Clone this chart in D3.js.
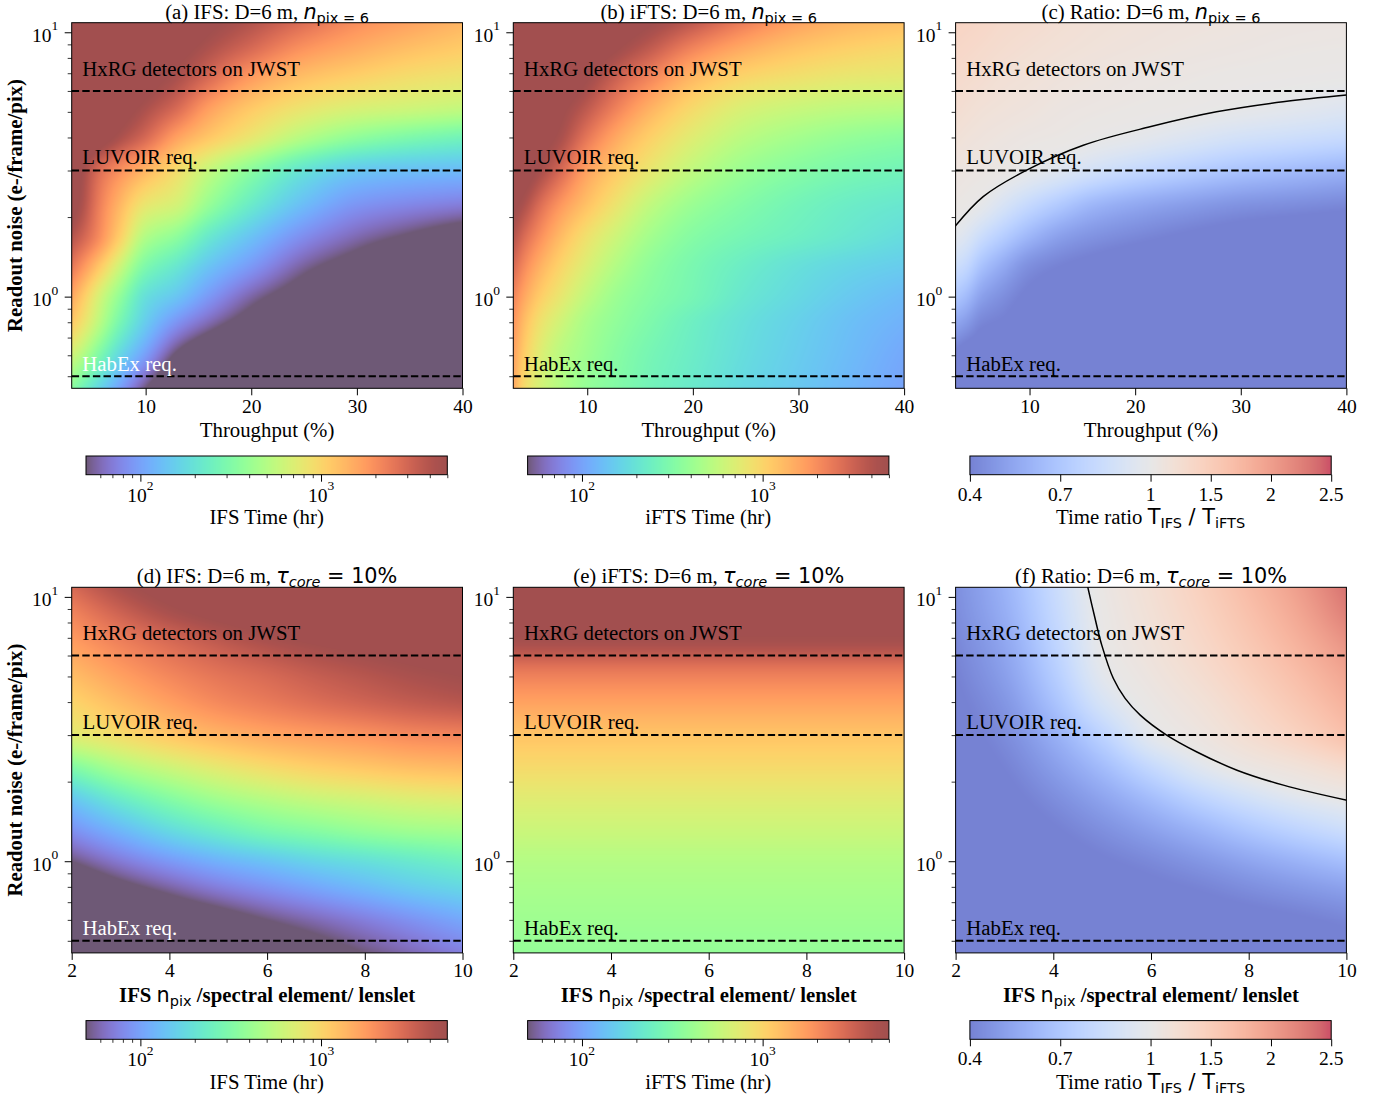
<!DOCTYPE html>
<html>
<head>
<meta charset="utf-8">
<script src="https://cdn.jsdelivr.net/npm/d3@7"></script>
<style>
  body { margin: 0; background: #fff; overflow: hidden; }
  svg { display: block; }
  text { white-space: pre; }
</style>
</head>
<body>
<svg id="fig" width="1387" height="1096"></svg>
<script>
// ---------------- data ----------------
// grid nodes
const throughputNodes = [3, 4, 5.5, 7.5, 10, 13, 16, 20, 25, 30, 35, 40];          // %
const npixNodes = [2, 3, 4, 5, 6, 7, 8, 9, 10];                                      // IFS n_pix
const noiseNodes = [10.9, 8.7, 6.8, 5.2, 4, 3, 2.2, 1.7, 1.3, 1, 0.8, 0.6, 0.45];  // e-/frame/pix, top to bottom

// (a) IFS time (hr): rows = noiseNodes, columns = throughputNodes
const ifsTimeThroughput = [
  [30000, 30000, 30000, 30000, 17000, 9500, 5700, 4000, 2750, 2000, 1660, 1380],
  [30000, 30000, 30000, 20000, 11000, 6300, 4200, 2900, 1900, 1510, 1260, 1100],
  [30000, 30000, 25000, 12600, 6900, 4400, 2900, 1800, 1260, 1050, 910, 830],
  [30000, 25000, 14000, 7200, 4400, 2900, 1740, 1150, 830, 690, 630, 575],
  [25000, 14000, 7200, 4400, 2900, 1660, 1150, 790, 500, 363, 302, 263],
  [10000, 5000, 2900, 2000, 1380, 910, 575, 347, 200, 145, 132, 126],
  [6300, 4200, 2400, 1380, 790, 630, 380, 219, 126, 87, 76, 69],
  [4000, 3160, 2100, 1100, 500, 363, 219, 138, 83, 60, 48, 38],
  [2500, 1900, 1200, 630, 302, 209, 138, 91, 55, 40, 29, 22],
  [1580, 1150, 690, 380, 190, 138, 91, 57, 38, 26, 20, 15],
  [1150, 870, 550, 288, 151, 87, 60, 40, 26, 18, 12.6, 9.5],
  [630, 500, 316, 173, 95, 46, 30, 19, 10, 6, 4, 2.5],
  [347, 263, 173, 100, 50, 25, 13, 6, 3, 2, 1.3, 0.8]
];

// (b) iFTS time (hr): rows = noiseNodes, columns = throughputNodes
const iftsTimeThroughput = [
  [30000, 30000, 30000, 20000, 11500, 7200, 5200, 3600, 2300, 1660, 1380, 1260],
  [30000, 30000, 26000, 14000, 7900, 5000, 3500, 2200, 1510, 1200, 1050, 955],
  [30000, 30000, 17000, 9100, 5200, 3160, 2200, 1380, 1000, 870, 790, 760],
  [30000, 20000, 10500, 5700, 3600, 2200, 1450, 955, 690, 600, 550, 525],
  [20000, 12600, 6900, 4400, 2500, 1510, 1050, 725, 525, 437, 380, 347],
  [9000, 6900, 4570, 2900, 1660, 1100, 790, 550, 400, 331, 288, 263],
  [5500, 4200, 2750, 1800, 1200, 790, 550, 400, 316, 263, 229, 209],
  [4000, 2900, 2000, 1320, 870, 600, 437, 331, 275, 240, 209, 182],
  [2900, 2100, 1450, 1000, 690, 480, 363, 288, 229, 190, 166, 151],
  [2200, 1600, 1100, 790, 550, 400, 331, 275, 209, 173, 145, 126],
  [1900, 1300, 870, 630, 457, 363, 302, 240, 190, 158, 132, 115],
  [1700, 1100, 725, 525, 417, 331, 275, 229, 182, 151, 126, 105],
  [1580, 950, 660, 500, 380, 316, 263, 219, 173, 145, 120, 100]
];

// (c) time ratio T_IFS / T_iFTS: rows = noiseNodes, columns = throughputNodes
const ratioThroughput = [
  [1.4, 1.38, 1.35, 1.3, 1.27, 1.22, 1.18, 1.15, 1.12, 1.1, 1.08, 1.07],
  [1.35, 1.33, 1.3, 1.26, 1.22, 1.18, 1.15, 1.12, 1.09, 1.07, 1.05, 1.04],
  [1.3, 1.28, 1.25, 1.2, 1.17, 1.13, 1.1, 1.07, 1.05, 1.03, 1.02, 1.01],
  [1.25, 1.22, 1.18, 1.15, 1.12, 1.08, 1.06, 1.04, 1.02, 0.995, 0.97, 0.94],
  [1.18, 1.15, 1.12, 1.09, 1.06, 1.04, 1.01, 0.98, 0.93, 0.88, 0.85, 0.82],
  [1.1, 1.08, 1.06, 1.03, 0.99, 0.94, 0.88, 0.81, 0.74, 0.68, 0.64, 0.6],
  [1.04, 1.02, 0.98, 0.9, 0.8, 0.7, 0.61, 0.55, 0.5, 0.46, 0.44, 0.42],
  [0.97, 0.93, 0.84, 0.74, 0.62, 0.52, 0.47, 0.43, 0.39, 0.36, 0.34, 0.32],
  [0.85, 0.8, 0.67, 0.56, 0.45, 0.4, 0.37, 0.34, 0.32, 0.3, 0.28, 0.27],
  [0.7, 0.64, 0.52, 0.45, 0.38, 0.34, 0.32, 0.3, 0.28, 0.26, 0.25, 0.24],
  [0.55, 0.5, 0.42, 0.39, 0.34, 0.31, 0.29, 0.27, 0.26, 0.25, 0.24, 0.23],
  [0.38, 0.35, 0.33, 0.31, 0.29, 0.27, 0.26, 0.25, 0.24, 0.23, 0.22, 0.21],
  [0.3, 0.28, 0.27, 0.26, 0.25, 0.24, 0.23, 0.22, 0.21, 0.2, 0.19, 0.18]
];

// (d) IFS time (hr) at tau_core = 10%: rows = noiseNodes, columns = npixNodes
const ifsTimeNpix = [
  [2900, 4400, 6300, 8700, 11500, 14400, 18000, 22000, 26000],
  [2200, 3160, 4400, 5700, 7200, 9100, 11000, 13200, 15000],
  [1740, 2290, 2900, 3600, 4400, 5200, 6000, 6900, 7900],
  [1320, 1740, 2200, 2630, 3000, 3500, 4000, 4600, 5200],
  [1000, 1320, 1700, 2090, 2400, 2750, 3100, 3470, 3800],
  [725, 910, 1150, 1380, 1580, 1740, 1900, 2100, 2200],
  [288, 437, 575, 725, 870, 1000, 1100, 1200, 1260],
  [138, 219, 316, 417, 500, 575, 630, 690, 725],
  [83, 120, 173, 229, 288, 331, 380, 417, 437],
  [50, 69, 91, 115, 138, 166, 190, 219, 251],
  [32, 44, 57, 72, 87, 105, 126, 151, 173],
  [16, 23, 32, 40, 50, 60, 72, 87, 105],
  [8, 12.6, 18, 24, 32, 40, 50, 60, 72]
];

// (e) iFTS time (hr) at tau_core = 10%: does not depend on the IFS n_pix
const iftsTimeNoise = [8700, 6300, 4600, 2400, 1660, 1200, 910, 725, 600, 500, 457, 417, 380];

// (f) time ratio T_IFS / T_iFTS: rows = noiseNodes, columns = npixNodes
const ratioNpix = [
  [0.45, 0.6, 0.82, 1.04, 1.22, 1.45, 1.72, 2.0, 2.35],
  [0.44, 0.58, 0.8, 1.02, 1.19, 1.4, 1.65, 1.92, 2.25],
  [0.42, 0.55, 0.77, 1.005, 1.15, 1.34, 1.57, 1.82, 2.1],
  [0.4, 0.52, 0.73, 0.97, 1.1, 1.26, 1.47, 1.7, 1.95],
  [0.38, 0.48, 0.67, 0.9, 1.04, 1.17, 1.36, 1.58, 1.82],
  [0.36, 0.44, 0.58, 0.77, 0.97, 1.08, 1.24, 1.42, 1.65],
  [0.34, 0.4, 0.5, 0.63, 0.79, 0.93, 1.03, 1.12, 1.25],
  [0.32, 0.37, 0.44, 0.53, 0.64, 0.76, 0.86, 0.94, 1.0],
  [0.3, 0.34, 0.39, 0.45, 0.52, 0.6, 0.69, 0.77, 0.84],
  [0.28, 0.31, 0.35, 0.39, 0.43, 0.48, 0.54, 0.6, 0.66],
  [0.27, 0.29, 0.32, 0.35, 0.38, 0.41, 0.45, 0.49, 0.53],
  [0.25, 0.27, 0.29, 0.31, 0.33, 0.35, 0.37, 0.39, 0.42],
  [0.24, 0.25, 0.27, 0.28, 0.3, 0.31, 0.33, 0.34, 0.36]
];

// ratio = 1 contours: [x, readout noise]
const ratioContourThroughput = [[2.93, 1.84], [5.61, 2.39], [9.73, 3.01], [15.09, 3.74], [21.4, 4.39],
  [27.7, 5.0], [34.0, 5.46], [40.0, 5.79]];
const ratioContourNpix = [[4.70, 11.0], [4.855, 8.28], [4.992, 6.57], [5.23, 4.91], [5.47, 4.13],
  [5.78, 3.57], [6.32, 3.0], [6.94, 2.59], [7.76, 2.21], [8.71, 1.94], [10.01, 1.70]];

// detector requirements
const requirementLevels = [6, 3, 0.5];
const requirementLabels = ["HxRG detectors on JWST", "LUVOIR req.", "HabEx req."];
const requirementLabelNoise = [6.85, 3.17, 0.525];
const labelThroughput = 4;
const labelNpix = 2.22;

// ticks
const throughputTicks = [10, 20, 30, 40];
const npixTicks = [2, 4, 6, 8, 10];
const noiseMajorTicks = [1, 10];
const noiseMinorTicks = [0.5, 0.6, 0.7, 0.8, 0.9, 2, 3, 4, 5, 6, 7, 8, 9];
const timeMajorTicks = [100, 1000];
const timeMinorTicks = [60, 70, 80, 90, 200, 300, 400, 500, 600, 700, 800, 900, 2000, 3000, 4000, 5000];
const ratioTicks = [0.4, 0.7, 1, 1.5, 2, 2.5];
const ratioTickLabels = ["0.4", "0.7", "1", "1.5", "2", "2.5"];

// coolwarm palette
const coolwarmStops = ["#3b4cc0","#445acc","#4d68d7","#5775e1","#6282ea","#6c8ef1","#779af7","#82a5fb",
  "#8db0fe","#98b9ff","#a3c2ff","#aec9fd","#b8d0f9","#c2d5f4","#ccd9ee","#d5dbe6","#dddddd","#e5d8d1",
  "#ecd3c5","#f1ccb9","#f5c4ad","#f7bba0","#f7b194","#f7a688","#f49a7b","#f18d6f","#ec7f63","#e57058",
  "#de604d","#d55042","#cb3e38","#c0282f","#b40426"];

// ---------------- layout ----------------
const SERIF = '"Liberation Serif", "Times New Roman", serif';
const SANS = '"DejaVu Sans", sans-serif';
const FS = 20.8, TICK_FS = 19.5, SUB_FS = 14.5, SUP_FS = 13.5;
const PW = 390.8, PH = 365.6;
const colLeft = [71.7, 513.3, 955.6];
const rowTop = [22.7, 587.3];
const CB_W = 361.3, CB_H = 18.7, CB_DX = 14.3, CB_DY = 433.3;
const ALPHA = 0.7;

const svg = d3.select('#fig');

// colour maps drawn at 70% opacity over white
function fade(c) { return [c[0] * ALPHA + 255 * (1 - ALPHA), c[1] * ALPHA + 255 * (1 - ALPHA), c[2] * ALPHA + 255 * (1 - ALPHA)]; }
// d3's turbo, with its two ends pulled onto the reference turbo end colours
const TURBO_LO = [48, 18, 59], TURBO_HI = [122, 4, 3];
const d3Lo = d3.rgb(d3.interpolateTurbo(0)), d3Hi = d3.rgb(d3.interpolateTurbo(1));
function turboRGB(u) {
  u = Math.max(0, Math.min(1, u));
  const c = d3.rgb(d3.interpolateTurbo(u));
  const w0 = Math.pow(Math.max(0, 1 - u / 0.15), 2);
  const w1 = Math.pow(Math.max(0, 1 - (1 - u) / 0.15), 2);
  return [
    c.r + w0 * (TURBO_LO[0] - d3Lo.r) + w1 * (TURBO_HI[0] - d3Hi.r),
    c.g + w0 * (TURBO_LO[1] - d3Lo.g) + w1 * (TURBO_HI[1] - d3Hi.g),
    c.b + w0 * (TURBO_LO[2] - d3Lo.b) + w1 * (TURBO_HI[2] - d3Hi.b)
  ];
}
const turboColor = u => fade(turboRGB(u));
const coolwarmScale = d3.scaleLinear()
  .domain(coolwarmStops.map((_, i) => i / (coolwarmStops.length - 1)))
  .range(coolwarmStops).clamp(true);
const coolwarmColor = u => { const c = d3.rgb(coolwarmScale(u)); return fade([c.r, c.g, c.b]); };
const timeNorm = d3.scaleLog().domain([50, 5000]).range([0, 1]).clamp(true);
const ratioNorm = d3.scaleLinear().domain([0.4, 1, 2.5]).range([0, 0.5, 1]).clamp(true);

// text with mixed fonts / sub- and superscripts
function rich(parent, x, y, parts, anchor) {
  const t = parent.append('text').attr('x', x).attr('y', y).attr('text-anchor', anchor || 'start');
  parts.forEach(p => {
    const s = t.append('tspan').text(p.t)
      .attr('font-family', p.ff || SERIF)
      .attr('font-size', p.fs || FS)
      .attr('fill', p.fill || '#000');
    if (p.fw) s.attr('font-weight', p.fw);
    if (p.it) s.attr('font-style', 'italic');
    if (p.dy) s.attr('dy', p.dy);
  });
  return t;
}

// monotone cubic (Fritsch–Butland) through ascending nodes, used for smooth shading
function monotoneSpline(xs, ys) {
  const n = xs.length, d = [], m = new Array(n);
  for (let i = 0; i < n - 1; i++) d[i] = (ys[i + 1] - ys[i]) / (xs[i + 1] - xs[i]);
  m[0] = d[0]; m[n - 1] = d[n - 2];
  for (let i = 1; i < n - 1; i++) {
    if (d[i - 1] * d[i] <= 0) { m[i] = 0; continue; }
    const h0 = xs[i] - xs[i - 1], h1 = xs[i + 1] - xs[i];
    const w1 = 2 * h1 + h0, w2 = h1 + 2 * h0;
    m[i] = (w1 + w2) / (w1 / d[i - 1] + w2 / d[i]);
  }
  return x => {
    let i = 0;
    while (i < n - 2 && x > xs[i + 1]) i++;
    const h = xs[i + 1] - xs[i];
    const t = Math.max(0, Math.min(1, (x - xs[i]) / h));
    const t2 = t * t, t3 = t2 * t;
    return (2 * t3 - 3 * t2 + 1) * ys[i] + (t3 - 2 * t2 + t) * h * m[i] +
           (-2 * t3 + 3 * t2) * ys[i + 1] + (t3 - t2) * h * m[i + 1];
  };
}

// smooth shaded heat map between grid nodes (x linear, noise logarithmic)
function heatImage(xScale, yScale, xNodes, values, colorOf) {
  const w = Math.round(PW), h = Math.round(PH);
  const canvas = document.createElement('canvas');
  canvas.width = w; canvas.height = h;
  const ctx = canvas.getContext('2d');
  const img = ctx.createImageData(w, h);
  const left = xScale.range()[0], top = yScale.range()[1];
  const lyAsc = noiseNodes.map(Math.log10).reverse();
  const rowSplines = values.map(r => monotoneSpline(xNodes, r));
  const pixY = d3.range(h).map(py => Math.log10(yScale.invert(top + (py + 0.5) * PH / h)));
  for (let px = 0; px < w; px++) {
    const xv = xScale.invert(left + (px + 0.5) * PW / w);
    const colVals = rowSplines.map(f => f(xv)).reverse();
    const colSpline = monotoneSpline(lyAsc, colVals);
    for (let py = 0; py < h; py++) {
      const c = colorOf(colSpline(pixY[py]));
      const k = (py * w + px) * 4;
      img.data[k] = c[0]; img.data[k + 1] = c[1]; img.data[k + 2] = c[2]; img.data[k + 3] = 255;
    }
  }
  ctx.putImageData(img, 0, 0);
  return canvas.toDataURL();
}

function gradientImage(colorOf) {
  const w = Math.round(CB_W);
  const canvas = document.createElement('canvas');
  canvas.width = w; canvas.height = 1;
  const ctx = canvas.getContext('2d');
  const img = ctx.createImageData(w, 1);
  for (let px = 0; px < w; px++) {
    const c = colorOf((px + 0.5) / w);
    img.data[px * 4] = c[0]; img.data[px * 4 + 1] = c[1]; img.data[px * 4 + 2] = c[2]; img.data[px * 4 + 3] = 255;
  }
  ctx.putImageData(img, 0, 0);
  return canvas.toDataURL();
}

const titleMain = (tag, label) => [{ t: `(${tag}) ${label}: D=6 m, ` }];
const npixTitle = [{ t: 'n', ff: SANS, it: true }, { t: 'pix = 6', ff: SANS, fs: SUB_FS, dy: 4 }];
const tauTitle = [{ t: '\u03c4', ff: SANS, it: true }, { t: 'core', ff: SANS, it: true, fs: SUB_FS, dy: 4 },
                  { t: ' = 10%', ff: SANS, dy: -4 }];
const ratioLabel = [{ t: 'Time ratio ' }, { t: 'T', ff: SANS }, { t: 'IFS', ff: SANS, fs: SUB_FS, dy: 4 },
  { t: ' / ', ff: SANS, dy: -4 }, { t: 'T', ff: SANS }, { t: 'iFTS', ff: SANS, fs: SUB_FS, dy: 4 }];

const panels = [
  { tag: 'a', row: 0, col: 0, kind: 'time', grid: ifsTimeThroughput, title: titleMain('a', 'IFS').concat(npixTitle), cb: 'IFS Time (hr)', white: true },
  { tag: 'b', row: 0, col: 1, kind: 'time', grid: iftsTimeThroughput, title: titleMain('b', 'iFTS').concat(npixTitle), cb: 'iFTS Time (hr)' },
  { tag: 'c', row: 0, col: 2, kind: 'ratio', grid: ratioThroughput, title: titleMain('c', 'Ratio').concat(npixTitle), contour: ratioContourThroughput },
  { tag: 'd', row: 1, col: 0, kind: 'time', grid: ifsTimeNpix, title: titleMain('d', 'IFS').concat(tauTitle), cb: 'IFS Time (hr)', white: true },
  { tag: 'e', row: 1, col: 1, kind: 'time', grid: noiseNodes.map((_, j) => npixNodes.map(() => iftsTimeNoise[j])), title: titleMain('e', 'iFTS').concat(tauTitle), cb: 'iFTS Time (hr)' },
  { tag: 'f', row: 1, col: 2, kind: 'ratio', grid: ratioNpix, title: titleMain('f', 'Ratio').concat(tauTitle), contour: ratioContourNpix }
];

panels.forEach(p => {
  const left = colLeft[p.col], top = rowTop[p.row], bottom = top + PH, right = left + PW;
  const isThroughput = p.row === 0;
  const xNodes = isThroughput ? throughputNodes : npixNodes;
  const x = d3.scaleLinear().domain(isThroughput ? [3, 40] : [2, 10]).range([left, right]);
  const y = d3.scaleLog().domain([0.45, 10.87]).range([bottom, top]);
  const g = svg.append('g').attr('class', 'panel-' + p.tag);

  // heat map
  const values = p.kind === 'time' ? p.grid.map(r => r.map(Math.log10)) : p.grid;
  const colorOf = p.kind === 'time'
    ? v => turboColor(timeNorm(Math.pow(10, v)))
    : v => coolwarmColor(ratioNorm(v));
  g.append('image')
    .attr('href', heatImage(x, y, xNodes, values, colorOf))
    .attr('x', left).attr('y', top).attr('width', PW).attr('height', PH)
    .attr('preserveAspectRatio', 'none');

  const clipId = 'clip-' + p.tag;
  svg.append('clipPath').attr('id', clipId)
    .append('rect').attr('x', left).attr('y', top).attr('width', PW).attr('height', PH);

  // requirement lines
  g.selectAll('line.req').data(requirementLevels).enter().append('line')
    .attr('x1', left).attr('x2', right)
    .attr('y1', d => y(d)).attr('y2', d => y(d))
    .attr('stroke', '#000').attr('stroke-width', 2).attr('stroke-dasharray', '7.4,3.2');

  // ratio = 1 contour
  if (p.contour) {
    g.append('path')
      .attr('clip-path', `url(#${clipId})`)
      .attr('d', d3.line().x(d => x(d[0])).y(d => y(d[1])).curve(d3.curveCatmullRom.alpha(0.5))(p.contour))
      .attr('fill', 'none').attr('stroke', '#000').attr('stroke-width', 1.5);
  }

  // requirement labels
  const lx = x(isThroughput ? labelThroughput : labelNpix);
  requirementLabels.forEach((txt, i) => {
    const fill = (i === 2 && p.white) ? '#fff' : '#000';
    rich(g, lx, y(requirementLabelNoise[i]), [{ t: txt, fill }]);
  });

  // frame
  g.append('rect').attr('x', left).attr('y', top).attr('width', PW).attr('height', PH)
    .attr('fill', 'none').attr('stroke', '#000').attr('stroke-width', 1);

  // x axis
  g.append('g').attr('transform', `translate(0,${bottom})`)
    .call(d3.axisBottom(x).tickValues(isThroughput ? throughputTicks : npixTicks).tickSize(7).tickPadding(3.6))
    .call(s => {
      s.select('.domain').remove();
      s.attr('font-family', null).attr('font-size', null);
      s.selectAll('text').attr('font-family', SERIF).attr('font-size', TICK_FS).attr('fill', '#000');
    });

  // y axis
  g.append('g').attr('transform', `translate(${left},0)`)
    .call(d3.axisLeft(y).tickValues(noiseMinorTicks).tickSize(4).tickFormat(''))
    .call(s => { s.select('.domain').remove(); s.selectAll('line').attr('stroke-width', 0.8); });
  g.append('g').attr('transform', `translate(${left},0)`)
    .call(d3.axisLeft(y).tickValues(noiseMajorTicks).tickSize(7).tickFormat(''))
    .call(s => s.select('.domain').remove());
  noiseMajorTicks.forEach(v => {
    rich(g, left - 13.4, y(v) + 9.4,
      [{ t: '10', fs: TICK_FS }, { t: String(Math.round(Math.log10(v))), fs: SUP_FS, dy: -11.5 }], 'end');
  });

  // axis labels
  if (isThroughput) {
    rich(g, (left + right) / 2, bottom + 48.8, [{ t: 'Throughput (%)' }], 'middle');
  } else {
    rich(g, (left + right) / 2, bottom + 48.8, [
      { t: 'IFS ', fw: 'bold' }, { t: 'n', ff: SANS }, { t: 'pix', ff: SANS, fs: SUB_FS, dy: 4 },
      { t: ' /spectral element/ lenslet', fw: 'bold', dy: -4 }], 'middle');
  }
  if (p.col === 0) {
    g.append('text')
      .attr('transform', `translate(22,${(top + bottom) / 2}) rotate(-90)`)
      .attr('text-anchor', 'middle')
      .attr('font-family', SERIF).attr('font-size', FS).attr('font-weight', 'bold')
      .text('Readout noise (e-/frame/pix)');
  }

  // title
  rich(g, (left + right) / 2, top - 4, p.title, 'middle');

  // colour bar
  const cbL = left + CB_DX, cbT = top + CB_DY, cbB = cbT + CB_H;
  const cg = g.append('g').attr('class', 'colorbar');
  if (p.kind === 'time') {
    const cx = d3.scaleLog().domain([50, 5000]).range([cbL, cbL + CB_W]);
    cg.append('image').attr('href', gradientImage(turboColor))
      .attr('x', cbL).attr('y', cbT).attr('width', CB_W).attr('height', CB_H)
      .attr('preserveAspectRatio', 'none');
    cg.append('g').attr('transform', `translate(0,${cbB})`)
      .call(d3.axisBottom(cx).tickValues(timeMinorTicks).tickSize(3.5).tickFormat(''))
      .call(s => { s.select('.domain').remove(); s.selectAll('line').attr('stroke-width', 0.8); });
    cg.append('g').attr('transform', `translate(0,${cbB})`)
      .call(d3.axisBottom(cx).tickValues(timeMajorTicks).tickSize(7).tickFormat(''))
      .call(s => s.select('.domain').remove());
    timeMajorTicks.forEach(v => {
      rich(cg, cx(v), cbB + 27,
        [{ t: '10', fs: TICK_FS }, { t: String(Math.round(Math.log10(v))), fs: SUP_FS, dy: -11.5 }], 'middle');
    });
    rich(cg, cbL + CB_W / 2, cbT + 68, [{ t: p.cb }], 'middle');
  } else {
    const cx = d3.scaleLinear().domain([0.4, 1, 2.5]).range([cbL, cbL + CB_W / 2, cbL + CB_W]);
    cg.append('image').attr('href', gradientImage(coolwarmColor))
      .attr('x', cbL).attr('y', cbT).attr('width', CB_W).attr('height', CB_H)
      .attr('preserveAspectRatio', 'none');
    cg.append('g').attr('transform', `translate(0,${cbB})`)
      .call(d3.axisBottom(cx).tickValues(ratioTicks).tickSize(7).tickFormat(''))
      .call(s => s.select('.domain').remove());
    ratioTicks.forEach((v, i) => {
      rich(cg, cx(v), cbB + 26, [{ t: ratioTickLabels[i], fs: TICK_FS }], 'middle');
    });
    rich(cg, cbL + CB_W / 2, cbT + 68, ratioLabel, 'middle');
  }
  cg.append('rect').attr('x', cbL).attr('y', cbT).attr('width', CB_W).attr('height', CB_H)
    .attr('fill', 'none').attr('stroke', '#000').attr('stroke-width', 1);
});
</script>
</body>
</html>
